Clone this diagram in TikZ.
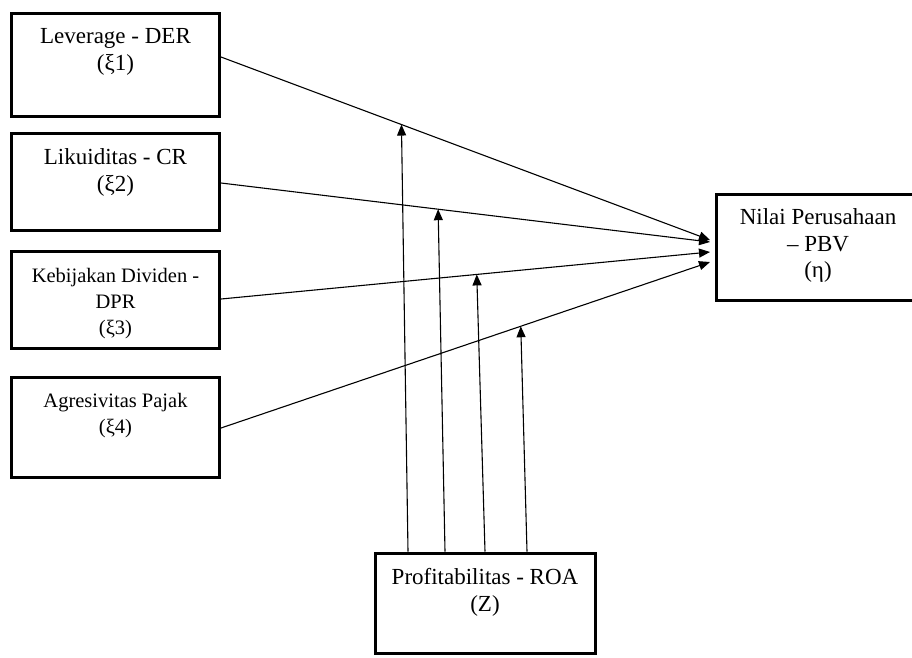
\documentclass[tikz,border=0pt]{standalone}
\usepackage{fontspec}
\setmainfont{Liberation Serif}
\usetikzlibrary{arrows.meta,calc}
\begin{document}
\begin{tikzpicture}[x=1pt,y=-1pt,
  box/.style={draw=black,line width=3pt,inner sep=0pt,rectangle},
  lbl/.style={anchor=north,inner sep=0pt,align=center,font=\fontsize{23}{26.5}\selectfont},
  lbls/.style={anchor=north,inner sep=0pt,align=center,font=\fontsize{20.5}{26}\selectfont},
  conn/.style={line width=1.1pt,-{Triangle[length=11pt,width=9pt]}}]
\clip (0,0) rectangle (912,657);
\fill[white] (0,0) rectangle (912,657);
% boxes
\node[box,minimum width=208pt,minimum height=103pt] (b1) at (115.5,64.5) {};
\node[box,minimum width=208pt,minimum height=97pt] (b2) at (115.5,181.5) {};
\node[box,minimum width=208pt,minimum height=97.5pt] (b3) at (115.5,300) {};
\node[box,minimum width=208pt,minimum height=100pt] (b4) at (115.5,427) {};
\node[box,minimum width=203pt,minimum height=106pt] (b5) at (818,247) {};
\node[box,minimum width=220pt,minimum height=100pt] (b6) at (485,603) {};
% texts
\node[lbl] (t1) at ($(b1.north)+(0,17)$) {Leverage - DER\\(ξ1)};
\node[lbl] (t2) at ($(b2.north)+(0,17)$) {Likuiditas - CR\\(ξ2)};
\node[lbls] (t3) at ($(b3.north)+(0,18)$) {Kebijakan Dividen -\\DPR\\(ξ3)};
\node[lbls] (t4) at ($(b4.north)+(0,18)$) {Agresivitas Pajak\\(ξ4)};
\node[lbl] (t5) at ($(b5.north)+(0,16)$) {Nilai Perusahaan\\– PBV\\(η)};
\node[lbl] (t6) at ($(b6.north)+(0,17)$) {Profitabilitas - ROA\\(Z)};
% connector end points
\coordinate (s1) at ($(b1.east)+(0,-7.5)$);
\coordinate (s2) at ($(b2.east)+(0,1.5)$);
\coordinate (s3) at ($(b3.east)+(0,-1)$);
\coordinate (s4) at ($(b4.east)+(0,1)$);
\coordinate (e1) at ($(b5.west)+(-5,-7)$);
\coordinate (e2) at ($(b5.west)+(-5,-5)$);
\coordinate (e3) at ($(b5.west)+(-5,5)$);
\coordinate (e4) at ($(b5.west)+(-5,15)$);
\draw[conn] (s1) -- (e1);
\draw[conn] (s2) -- (e2);
\draw[conn] (s3) -- (e3);
\draw[conn] (s4) -- (e4);
% moderation points on the lines
\path (s1) -- (e1) coordinate[pos=0.369] (m1);
\path (s2) -- (e2) coordinate[pos=0.444] (m2);
\path (s3) -- (e3) coordinate[pos=0.523] (m3);
\path (s4) -- (e4) coordinate[pos=0.613] (m4);
\coordinate (z1) at ($(b6.north)+(-77,0)$);
\coordinate (z2) at ($(b6.north)+(-40,0)$);
\coordinate (z3) at ($(b6.north)+(0,0)$);
\coordinate (z4) at ($(b6.north)+(42,0)$);
\draw[conn] (z1) -- (m1);
\draw[conn] (z2) -- (m2);
\draw[conn] (z3) -- (m3);
\draw[conn] (z4) -- (m4);
\end{tikzpicture}
\end{document}
